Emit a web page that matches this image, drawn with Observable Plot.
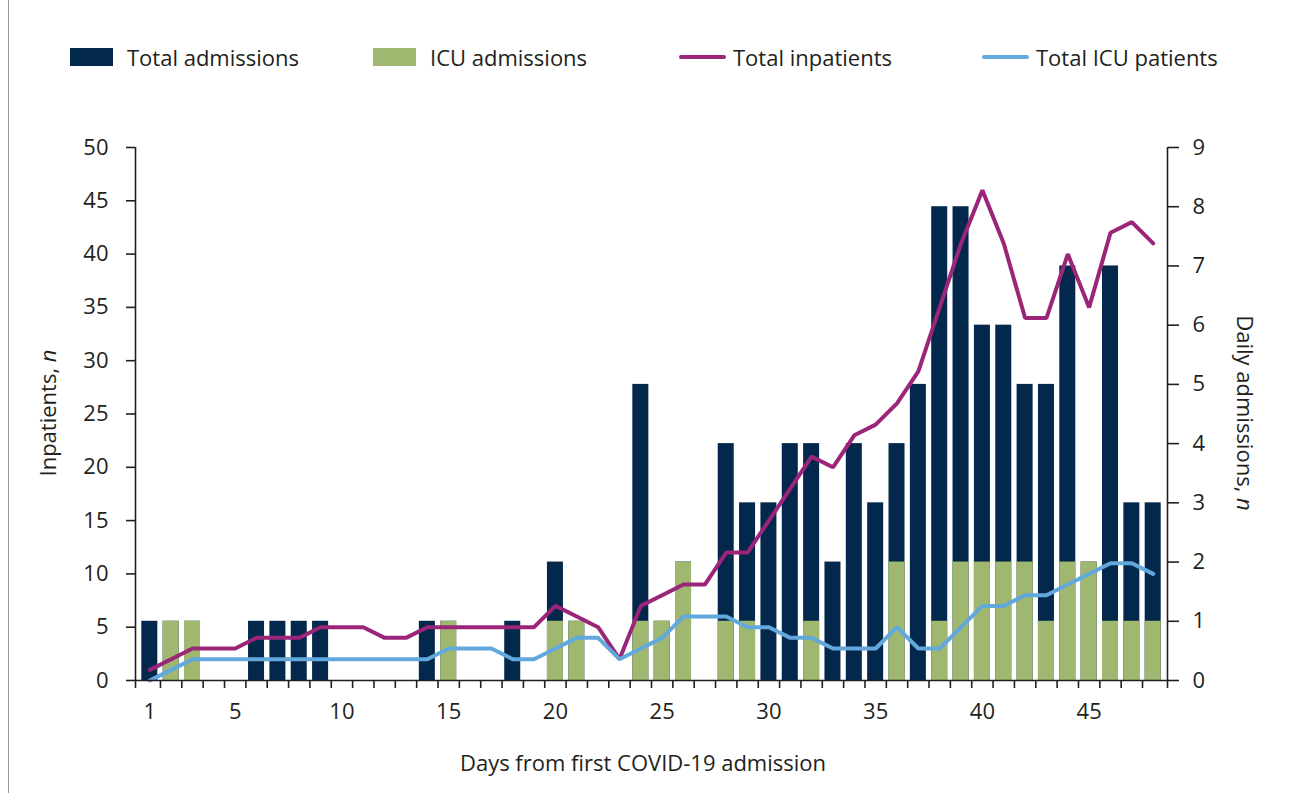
<!DOCTYPE html>
<html>
<head>
<meta charset="utf-8">
<script src="https://cdn.jsdelivr.net/npm/d3@7"></script>
<script src="https://cdn.jsdelivr.net/npm/@observablehq/plot@0.6"></script>
<style>
  body { margin: 0; background: #fff; font-family: "Open Sans", sans-serif; color: #231f20; }
  #wrap { position: relative; width: 1291px; height: 793px; overflow: hidden; }
  #border { position: absolute; left: 8px; top: 0; width: 1px; height: 793px; background: #9a9a9a; }
  #legend { position: relative; height: 100px; font-size: 22px; }
  .sw { position: absolute; }
  .lt { position: absolute; top: 57px; transform: translateY(-50%); line-height: 1; white-space: nowrap; }
  #chart svg { display: block; }
</style>
</head>
<body>
<div id="wrap">
  <div id="border"></div>
  <div id="legend"></div>
  <div id="chart"></div>
</div>
<script>
// ---- data ----
const days = [1,2,3,4,5,6,7,8,9,10,11,12,13,14,15,16,17,18,19,20,21,22,23,24,25,26,27,28,29,30,31,32,33,34,35,36,37,38,39,40,41,42,43,44,45,46,47,48];
const totalAdmissions = [1,1,1,0,0,1,1,1,1,0,0,0,0,1,1,0,0,1,0,2,1,0,0,5,1,2,0,4,3,3,4,4,2,4,3,4,5,8,8,6,6,5,5,7,2,7,3,3];
const icuAdmissions   = [0,1,1,0,0,0,0,0,0,0,0,0,0,0,1,0,0,0,0,1,1,0,0,1,1,2,0,1,1,0,0,1,0,0,0,2,0,1,2,2,2,2,1,2,2,1,1,1];
const totalInpatients = [1,2,3,3,3,4,4,4,5,5,5,4,4,5,5,5,5,5,5,7,6,5,2,7,8,9,9,12,12,15,18,21,20,23,24,26,29,35,41,46,41,34,34,40,35,42,43,41];
const totalIcuPatients= [0,1,2,2,2,2,2,2,2,2,2,2,2,2,3,3,3,2,2,3,4,4,2,3,4,6,6,6,5,5,4,4,3,3,3,5,3,3,5,7,7,8,8,9,10,11,11,10];

const xTickLabels = [1,5,10,15,20,25,30,35,40,45];
const leftTicks = [0,5,10,15,20,25,30,35,40,45,50];
const rightTicks = [0,1,2,3,4,5,6,7,8,9];

const seriesNames = ["Total admissions", "ICU admissions", "Total inpatients", "Total ICU patients"];
const seriesKinds = ["bar", "bar", "line", "line"];
const seriesColors = ["#03284b", "#9fb76f", "#9b2579", "#63a8dc"];

const leftMax = 50, rightMax = 9;
const k = leftMax / rightMax;
const axisColor = "#231f20";

const table = days.map((d, i) => ({
  day: d,
  total: totalAdmissions[i],
  icuAdm: icuAdmissions[i],
  inpatients: totalInpatients[i],
  icu: totalIcuPatients[i]
}));

// ---- legend ----
const legend = d3.select("#legend");
seriesNames.forEach((name, i) => {
  const x0 = 70 + i * 303;
  if (seriesKinds[i] === "bar") {
    legend.append("div").attr("class", "sw")
      .style("left", x0 + "px").style("top", "48px")
      .style("width", "43px").style("height", "18px")
      .style("background", seriesColors[i]);
  } else {
    legend.append("div").attr("class", "sw")
      .style("left", (x0 + 3) + "px").style("top", "55px")
      .style("width", "47px").style("height", "4px")
      .style("border-radius", "2px")
      .style("background", seriesColors[i]);
  }
  legend.append("div").attr("class", "lt")
    .style("left", (x0 + 57) + "px").text(name);
});

// ---- chart ----
const xDomain = [0.33, 48.67];
const boundaries = [xDomain[0], ...days.slice(0, -1).map(d => d + 0.5), xDomain[1]];
const half = 0.375;

const chart = Plot.plot({
  width: 1291,
  height: 693,
  marginLeft: 135,
  marginRight: 124,
  marginTop: 47,
  marginBottom: 113,
  style: { fontFamily: "Open Sans", fontSize: "22px", color: axisColor, background: "transparent", overflow: "visible" },
  x: { domain: xDomain },
  y: { domain: [0, leftMax] },
  marks: [
    Plot.rect(table, { x1: d => d.day - half, x2: d => d.day + half, y1: 0, y2: d => d.total * k, fill: seriesColors[0] }),
    Plot.rect(table.filter(d => d.icuAdm > 0), { x1: d => d.day - half, x2: d => d.day + half, y1: 0, y2: d => d.icuAdm * k, fill: seriesColors[1] }),
    Plot.line(table, { x: "day", y: "inpatients", stroke: seriesColors[2], strokeWidth: 4, strokeLinejoin: "miter" }),
    Plot.line(table, { x: "day", y: "icu", stroke: seriesColors[3], strokeWidth: 4, strokeLinejoin: "miter" }),
    Plot.ruleY([0], { stroke: axisColor, strokeWidth: 1.6 }),
    Plot.ruleX(xDomain, { stroke: axisColor, strokeWidth: 1.6 }),
    Plot.axisX(boundaries, { tickSize: 8, tickFormat: () => "", stroke: axisColor, strokeWidth: 1.6, label: null }),
    Plot.axisX(xTickLabels, { tickSize: 0, tickPadding: 23, label: null, fontSize: 22 }),
    Plot.axisY(leftTicks, { anchor: "left", tickSize: 9, tickPadding: 18, stroke: axisColor, strokeWidth: 1.6, label: null, fontSize: 22 }),
    Plot.axisY(rightTicks.map(v => v * k), { anchor: "right", tickSize: 11, tickPadding: 14, tickFormat: v => String(Math.round(v / k)), stroke: axisColor, strokeWidth: 1.6, label: null, fontSize: 22 })
  ]
});
document.getElementById("chart").appendChild(chart);

// ---- axis titles ----
const svg = d3.select(chart);
const titles = svg.append("g").attr("fill", axisColor).style("font-size", "22px").style("font-family", "Open Sans");
const lt = titles.append("text").attr("transform", "translate(48,313) rotate(-90)").attr("text-anchor", "middle").attr("dy", "0.35em");
lt.append("tspan").text("Inpatients, ");
lt.append("tspan").style("font-style", "italic").text("n");
const rt = titles.append("text").attr("transform", "translate(1245,313) rotate(90)").attr("text-anchor", "middle").attr("dy", "0.35em");
rt.append("tspan").text("Daily admissions, ");
rt.append("tspan").style("font-style", "italic").text("n");
titles.append("text").attr("x", 643).attr("y", 671).attr("text-anchor", "middle").text("Days from first COVID-19 admission");
</script>
</body>
</html>
